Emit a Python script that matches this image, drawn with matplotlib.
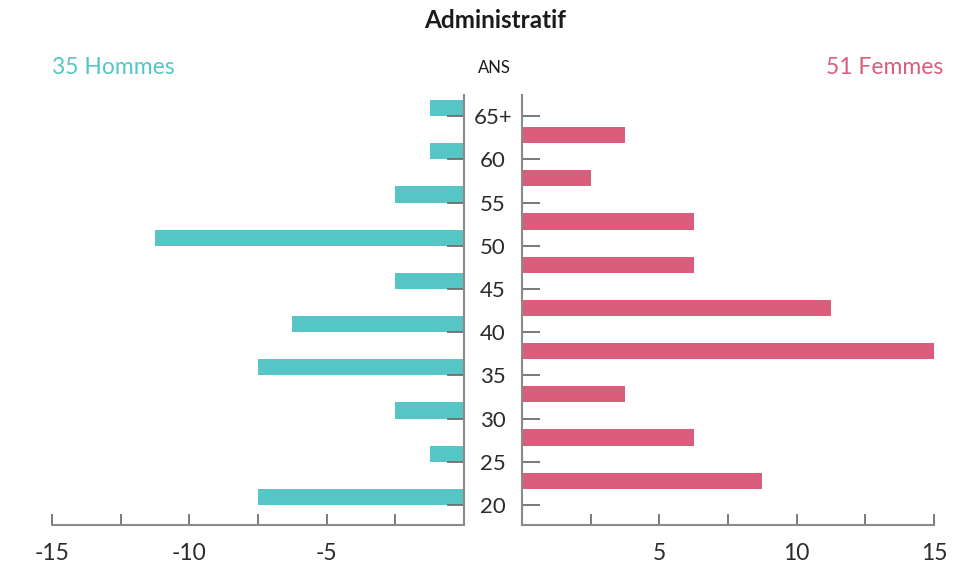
import matplotlib
matplotlib.use('Agg')
import numpy as np
import matplotlib.pyplot as plt
from matplotlib.ticker import MultipleLocator

plt.rcParams['font.family'] = ['Lato', 'DejaVu Sans']

# data
ages = ['20', '25', '30', '35', '40', '45', '50', '55', '60', '65+']
hommes = [7.5, 1.25, 2.5, 7.5, 6.25, 2.5, 11.25, 2.5, 1.25, 1.25]
femmes = [8.75, 6.25, 3.75, 15.0, 11.25, 6.25, 6.25, 2.5, 3.75, 0.0]
title = 'Administratif'
label_h = '35 Hommes'
label_f = '51 Femmes'

c_h = '#56C5C6'
c_f = '#DA5D7B'
c_axis = '#8a8a8a'
c_tick = '#6e6e6e'
c_text = '#2b2b2b'

fig = plt.figure(figsize=(9.63, 5.64), dpi=100)
ax_l = fig.add_axes([52 / 963, 1 - 525 / 564, 412 / 963, 430 / 564])
ax_r = fig.add_axes([522 / 963, 1 - 525 / 564, 412 / 963, 430 / 564])

idx = np.arange(len(ages))
bh = 0.375
ax_l.barh(idx, [-v for v in hommes], height=bh, align='edge', color=c_h)
ax_r.barh(idx + bh, femmes, height=bh, align='edge', color=c_f)

for ax in (ax_l, ax_r):
    ax.set_ylim(-0.46, 9.49)
    ax.set_yticks(idx)
    for s in ax.spines.values():
        s.set_color(c_axis)
        s.set_linewidth(1.5)
    ax.spines['top'].set_visible(False)
    ax.tick_params(axis='x', direction='in', length=8, width=1.3, color=c_tick,
                   labelsize=16.5, labelcolor=c_text, pad=13)
    ax.xaxis.set_minor_locator(MultipleLocator(2.5))
    ax.tick_params(axis='x', which='minor', direction='in', length=8, width=1.3, color=c_tick)

# left (hommes)
ax_l.set_xlim(-15, 0)
ax_l.spines['left'].set_visible(False)
ax_l.set_xticks([-15, -10, -5])
ax_l.set_xticklabels(['-15', '-10', '-5'])
ax_l.yaxis.tick_right()
ax_l.tick_params(axis='y', direction='in', length=12, width=1.3, color=c_tick, labelright=False)

# right (femmes)
ax_r.set_xlim(0, 15)
ax_r.spines['right'].set_visible(False)
ax_r.set_xticks([5, 10, 15])
ax_r.set_xticklabels(['5', '10', '15'])
ax_r.tick_params(axis='y', direction='in', length=13, width=1.3, color=c_tick,
                 labelsize=16, labelcolor=c_text, pad=21)
ax_r.set_yticklabels(ages, ha='center')

fig.text(495 / 963, 1 - 21 / 564, title, ha='center', va='center',
         fontsize=17.5, fontweight='bold', color='#1a1a1a')
fig.text(52 / 963, 1 - 68 / 564, label_h, ha='left', va='center', fontsize=16.5, color=c_h)
fig.text(943 / 963, 1 - 68 / 564, label_f, ha='right', va='center', fontsize=16.5, color=c_f)
fig.text(494 / 963, 1 - 68 / 564, 'ANS', ha='center', va='center', fontsize=12, color='#1a1a1a')

fig.savefig('out.png', dpi=100)
